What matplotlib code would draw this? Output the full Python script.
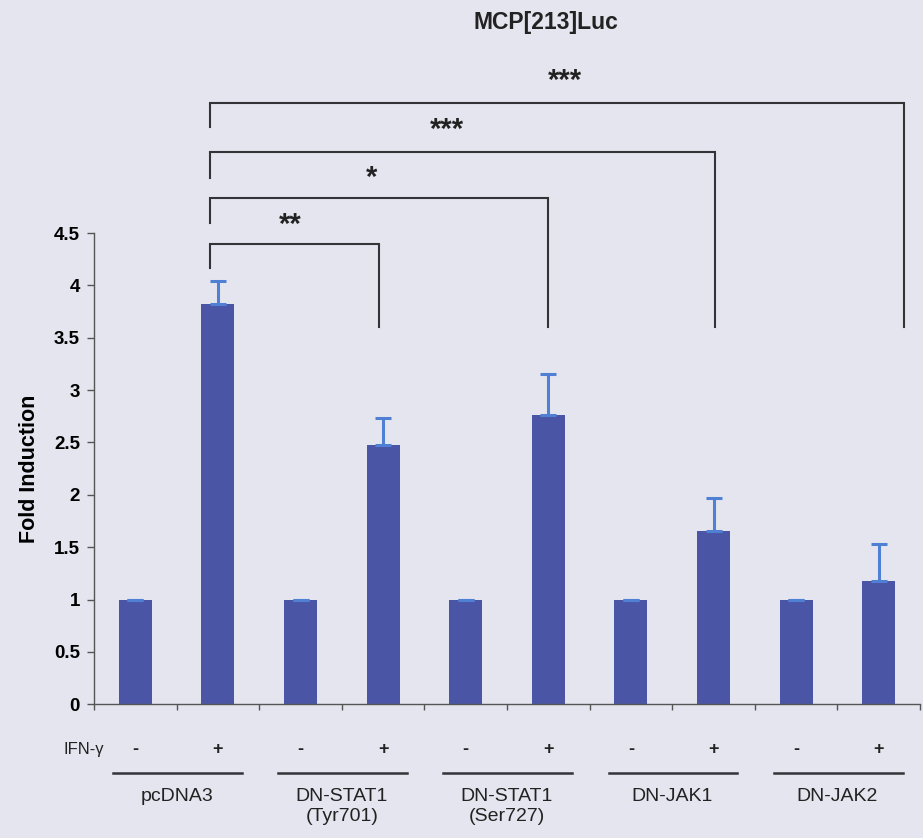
import matplotlib
matplotlib.use("Agg")
import matplotlib.pyplot as plt
import numpy as np

# ---- data ----
groups = ["pcDNA3", "DN-STAT1\n(Tyr701)", "DN-STAT1\n(Ser727)", "DN-JAK1", "DN-JAK2"]
ifn = ["-", "+", "-", "+", "-", "+", "-", "+", "-", "+"]
values = [1.0, 3.82, 1.0, 2.48, 1.0, 2.76, 1.0, 1.65, 1.0, 1.18]
errors = [0.0, 0.22, 0.0, 0.25, 0.0, 0.39, 0.0, 0.32, 0.0, 0.35]
# significance brackets: (left x, right x, bar y, left leg bottom, label)
brackets = [
    (0.90, 2.95, 4.395, 4.166, "**"),
    (0.90, 5.00, 4.834, 4.596, "*"),
    (0.90, 7.02, 5.274, 5.025, "***"),
    (0.90, 9.31, 5.744, 5.512, "***"),
]
star_pos = [(1.87, 4.58), (2.86, 5.03), (3.77, 5.48), (5.20, 5.95)]
right_leg_bottom = 3.603

BG = "#e5e5ef"
BAR = "#4b55a6"
ERR = "#4f80d4"
LINE = "#333338"
arial = ["Liberation Sans", "DejaVu Sans"]

fig = plt.figure(figsize=(9.23, 8.38), dpi=100, facecolor=BG)
ax = fig.add_axes([94 / 923, (838 - 704.3) / 838, (920 - 94) / 923, 471.3 / 838])
ax.set_facecolor(BG)

x = np.arange(len(values))
ax.bar(x, values, width=0.4, color=BAR, zorder=2)
ax.errorbar(x, values, yerr=[np.zeros(len(errors)), errors], fmt="none",
            ecolor=ERR, elinewidth=2.2, capsize=6, capthick=2.2, zorder=3)

ax.set_xlim(-0.5, 9.5)
ax.set_ylim(0, 4.5)
ax.set_xticks(np.arange(-0.5, 10, 1.0))
ax.set_xticklabels([])
ax.set_yticks(np.arange(0, 4.51, 0.5))
ax.set_yticklabels(["0", "0.5", "1", "1.5", "2", "2.5", "3", "3.5", "4", "4.5"],
                   fontfamily=arial, fontweight="bold", fontsize=13.5)
ax.tick_params(axis="both", direction="out", color="#555555", width=1.0)
ax.tick_params(axis="y", length=5, pad=5)
ax.tick_params(axis="x", length=4)
for s in ["top", "right"]:
    ax.spines[s].set_visible(False)
for s in ["left", "bottom"]:
    ax.spines[s].set_color("#555555")
    ax.spines[s].set_linewidth(1.0)

ax.set_ylabel("Fold Induction", fontfamily=arial, fontweight="bold", fontsize=15.5, labelpad=10)

# brackets
for (xl, xr, yb, yl, lab) in brackets:
    ax.plot([xl, xl, xr, xr], [yl, yb, yb, right_leg_bottom], color=LINE, lw=1.5,
            clip_on=False, zorder=1, solid_joinstyle="miter")
for (sx, sy), (_, _, _, _, lab) in zip(star_pos, brackets):
    ax.text(sx, sy, lab, ha="center", va="center", fontsize=21, color="#222222",
            fontfamily=arial, fontweight="bold", clip_on=False)

# title
fig.text(546 / 923, 1 - 22 / 838, "MCP[213]Luc", ha="center", va="center",
         fontsize=16.5, fontweight="bold", fontfamily=arial, color="#222222")

# IFN-gamma row
ax.text(-0.62, -0.436, "IFN-γ", ha="center", va="center", fontsize=12,
        fontfamily=arial, clip_on=False, color="#222222")
for xi, s in zip(x, ifn):
    ax.text(xi, -0.436, s, ha="center", va="center", fontsize=13, fontweight="bold",
            fontfamily=arial, clip_on=False, color="#222222")
for gi, g in enumerate(groups):
    a, b = 2 * gi, 2 * gi + 1
    ax.plot([a - 0.27, b + 0.29], [-0.653, -0.653], color=LINE, lw=1.8, clip_on=False)
    ax.text((a + b) / 2, -0.80, g, ha="center", va="top", fontsize=14,
            fontfamily=arial, clip_on=False, color="#222222", linespacing=1.25)

fig.savefig("out.png", dpi=100, facecolor=BG)
